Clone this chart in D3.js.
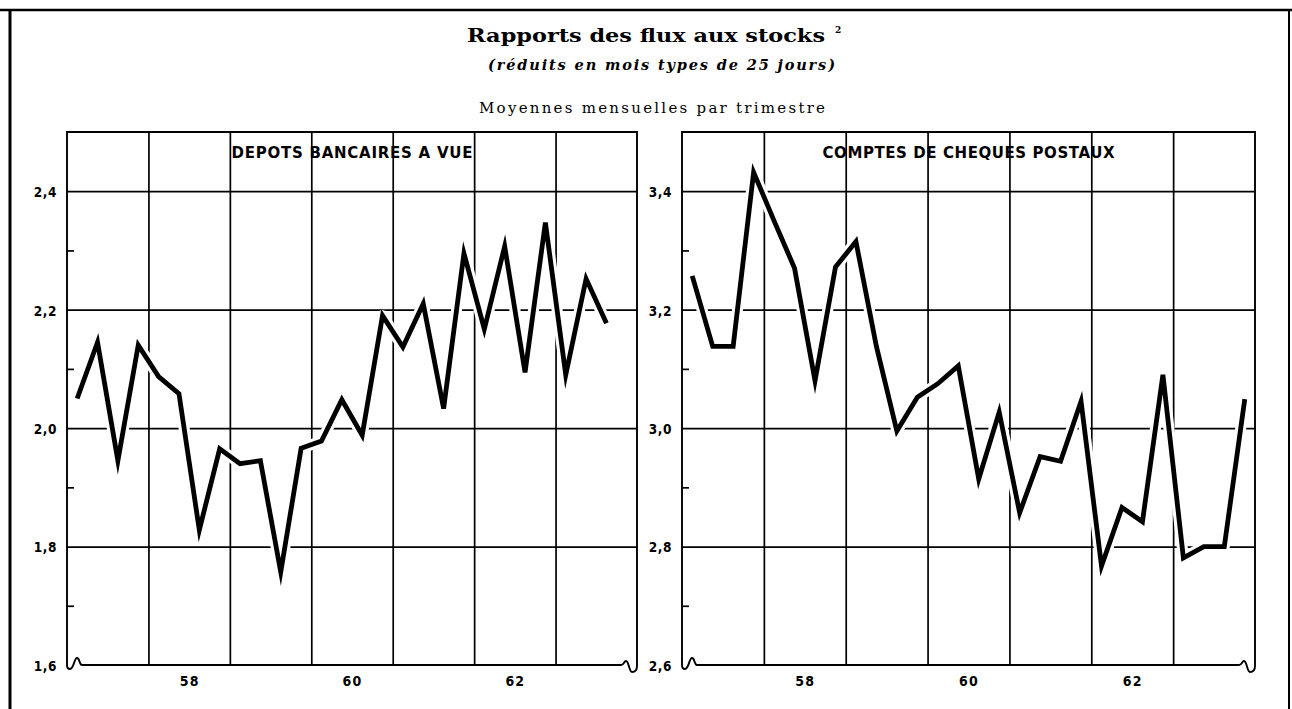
<!DOCTYPE html>
<html>
<head>
<meta charset="utf-8">
<script src="https://cdn.jsdelivr.net/npm/d3@7"></script>
<style>
  html, body { margin: 0; padding: 0; background: #fff; }
  svg { display: block; }
</style>
</head>
<body>
<svg id="chart" width="1292" height="709"></svg>
<script>
// Quarterly periods (trimestres), 1957 to 1963
const quarters = [
  "1957-T1", "1957-T2", "1957-T3", "1957-T4",
  "1958-T1", "1958-T2", "1958-T3", "1958-T4",
  "1959-T1", "1959-T2", "1959-T3", "1959-T4",
  "1960-T1", "1960-T2", "1960-T3", "1960-T4",
  "1961-T1", "1961-T2", "1961-T3", "1961-T4",
  "1962-T1", "1962-T2", "1962-T3", "1962-T4",
  "1963-T1", "1963-T2", "1963-T3", "1963-T4"
];

// Dépôts bancaires à vue (series stops at 1963-T3)
const depotsValues = [
  2.05, 2.145, 1.945, 2.14,
  2.087, 2.058, 1.828, 1.965,
  1.94, 1.945, 1.757, 1.966,
  1.978, 2.048, 1.988, 2.19,
  2.137, 2.21, 2.033, 2.295,
  2.167, 2.307, 2.094, 2.347,
  2.09, 2.252, 2.177
];

// Comptes de chèques postaux
const chequesValues = [
  3.257, 3.138, 3.138, 3.432,
  3.35, 3.27, 3.08, 3.272,
  3.315, 3.138, 2.995, 3.052,
  3.075, 3.105, 2.914, 3.027,
  2.857, 2.952, 2.944, 3.045,
  2.767, 2.866, 2.842, 3.09,
  2.781, 2.8, 2.8, 3.049
];

// Axis ticks
const gridYears = [1958, 1959, 1960, 1961, 1962, 1963];
const labelYears = [1958, 1960, 1962];
const yearLabels = ["58", "60", "62"];
const depotsMajor = [1.6, 1.8, 2.0, 2.2, 2.4];
const depotsMinor = [1.7, 1.9, 2.1, 2.3];
const chequesMajor = [2.6, 2.8, 3.0, 3.2, 3.4];
const chequesMinor = [2.7, 2.9, 3.1, 3.3];
const depotsDomain = [1.6, 2.5];
const chequesDomain = [2.6, 3.5];
const yearDomain = [1957, 1964];

// Texts
const titleText = "Rapports des flux aux stocks";
const titleNote = "2";
const subtitleText = "(réduits en mois types de 25 jours)";
const periodText = "Moyennes mensuelles par trimestre";
const panelTitles = ["DEPOTS BANCAIRES A VUE", "COMPTES DE CHEQUES POSTAUX"];

const svg = d3.select("#chart");
const frFormat = d3.formatLocale({ decimal: ",", thousands: " ", grouping: [3], currency: ["", " F"] }).format(".1f");
const labelFont = "'DejaVu Sans Condensed', 'Liberation Sans Narrow', 'Arial Narrow', sans-serif";
const serifFont = "'DejaVu Serif', 'Liberation Serif', serif";

// Sheet frame
svg.append("line").attr("x1", 0).attr("x2", 1292).attr("y1", 10).attr("y2", 10)
  .attr("stroke", "#000").attr("stroke-width", 2.5);
svg.append("line").attr("x1", 10).attr("x2", 10).attr("y1", 9).attr("y2", 709)
  .attr("stroke", "#000").attr("stroke-width", 3);
svg.append("line").attr("x1", 1289).attr("x2", 1289).attr("y1", 9).attr("y2", 709)
  .attr("stroke", "#000").attr("stroke-width", 2);

// Heading block
svg.append("text")
  .attr("x", 467).attr("y", 42)
  .attr("textLength", 358).attr("lengthAdjust", "spacingAndGlyphs")
  .style("font-family", serifFont)
  .style("font-weight", "bold").style("font-size", "18px")
  .text(titleText);
svg.append("text")
  .attr("x", 835).attr("y", 33)
  .style("font-family", serifFont)
  .style("font-weight", "bold").style("font-size", "9px")
  .text(titleNote);
svg.append("text")
  .attr("x", 488).attr("y", 70)
  .attr("textLength", 347).attr("lengthAdjust", "spacing")
  .style("font-family", serifFont)
  .style("font-style", "italic").style("font-weight", "bold").style("font-size", "14.5px")
  .text(subtitleText);
svg.append("text")
  .attr("x", 479).attr("y", 113)
  .attr("textLength", 346).attr("lengthAdjust", "spacing")
  .style("font-family", serifFont)
  .style("font-size", "15px")
  .text(periodText);

function periodYear(q) {
  const [y, t] = q.split("-T");
  return +y + (+t - 0.5) / 4;
}

function drawPanel(cfg) {
  const top = 132, bottom = 665;
  const x = d3.scaleLinear().domain(yearDomain).range([cfg.left, cfg.right]);
  const y = d3.scaleLinear().domain(cfg.domain).range([bottom, top]);
  const g = svg.append("g");
  const w = cfg.right - cfg.left;

  // Horizontal grid (major values)
  g.append("g")
    .attr("transform", `translate(${cfg.left},0)`)
    .call(d3.axisLeft(y).tickValues(cfg.major.filter(v => v > cfg.domain[0])).tickSize(-w).tickFormat(""))
    .call(a => a.select(".domain").remove())
    .call(a => a.selectAll("line").attr("stroke", "#000").attr("stroke-width", 1.7));

  // Vertical grid at year boundaries
  g.append("g")
    .attr("transform", `translate(0,${bottom})`)
    .call(d3.axisBottom(x).tickValues(gridYears).tickSize(-(bottom - top)).tickFormat(""))
    .call(a => a.select(".domain").remove())
    .call(a => a.selectAll("line").attr("stroke", "#000").attr("stroke-width", 1.7));

  // Minor ticks, pointing inward
  g.append("g")
    .attr("transform", `translate(${cfg.left},0)`)
    .call(d3.axisLeft(y).tickValues(cfg.minor).tickSize(-7).tickFormat(""))
    .call(a => a.select(".domain").remove())
    .call(a => a.selectAll("line").attr("stroke", "#000").attr("stroke-width", 1.7));

  // Y labels
  const ya = g.append("g")
    .attr("transform", `translate(${cfg.left},0)`)
    .call(d3.axisLeft(y).tickValues(cfg.major).tickSize(0).tickPadding(10).tickFormat(frFormat));
  ya.select(".domain").remove();
  ya.selectAll("text")
    .attr("dy", "0.4em")
    .style("font-family", labelFont).style("font-weight", "bold")
    .style("font-size", "13.5px").style("letter-spacing", "0.6px").attr("fill", "#000");

  // X labels centred in the year
  const xa = g.append("g")
    .attr("transform", `translate(0,${bottom})`)
    .call(d3.axisBottom(x).tickValues(labelYears.map(v => v + 0.5)).tickSize(0).tickPadding(11)
      .tickFormat((d, i) => yearLabels[i]));
  xa.select(".domain").remove();
  xa.selectAll("text")
    .style("font-family", labelFont).style("font-weight", "bold")
    .style("font-size", "14px").style("letter-spacing", "1.2px").attr("fill", "#000");

  // Panel frame with axis-break marks at the bottom corners
  const L = cfg.left, R = cfg.right, B = bottom;
  const framePath =
    `M${L + 15},${B} C${L + 12},${B} ${L + 13},${B - 7} ${L + 10},${B - 7} ` +
    `C${L + 7},${B - 7} ${L + 7},${B + 4} ${L + 3},${B + 4} C${L + 1},${B + 4} ${L},${B + 2} ${L},${B} ` +
    `L${L},${top} L${R},${top} L${R},${B + 1} ` +
    `C${R},${B + 5} ${R - 2},${B + 7} ${R - 5},${B + 7} C${R - 8},${B + 7} ${R - 8},${B - 4} ${R - 11},${B - 4} ` +
    `C${R - 13},${B - 4} ${R - 13},${B} ${R - 16},${B}`;
  g.append("path").attr("d", framePath).attr("fill", "none")
    .attr("stroke", "#000").attr("stroke-width", 1.9);
  g.append("line").attr("x1", L + 15).attr("x2", R - 16).attr("y1", B).attr("y2", B)
    .attr("stroke", "#000").attr("stroke-width", 2.2);

  // Panel title
  g.append("text")
    .attr("x", (L + R) / 2).attr("y", 158)
    .attr("text-anchor", "middle")
    .attr("textLength", cfg.titleWidth).attr("lengthAdjust", "spacing")
    .style("font-family", "'DejaVu Sans', 'Open Sans', sans-serif")
    .style("font-weight", "bold").style("font-size", "15px")
    .text(cfg.title);

  // Series: white halo breaks the grid where the curve crosses it
  const pts = cfg.values.map((v, i) => [x(periodYear(quarters[i])), y(v)]);
  const line = d3.line();
  g.append("path").attr("d", line(pts)).attr("fill", "none")
    .attr("stroke", "#fff").attr("stroke-width", 11).attr("stroke-linejoin", "round");
  g.append("path").attr("d", line(pts)).attr("fill", "none")
    .attr("stroke", "#000").attr("stroke-width", 4.8)
    .attr("stroke-linejoin", "miter").attr("stroke-miterlimit", 6);
}

drawPanel({ left: 67, right: 637, domain: depotsDomain, major: depotsMajor, minor: depotsMinor,
  values: depotsValues, title: panelTitles[0], titleWidth: 241 });
drawPanel({ left: 682, right: 1255, domain: chequesDomain, major: chequesMajor, minor: chequesMinor,
  values: chequesValues, title: panelTitles[1], titleWidth: 292 });
</script>
</body>
</html>
